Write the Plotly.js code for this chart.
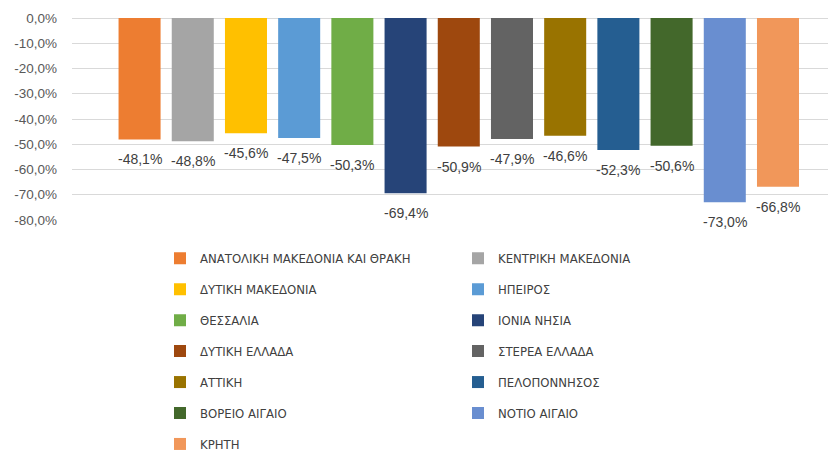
<!DOCTYPE html>
<html>
<head>
<meta charset="utf-8">
<script src="https://cdn.plot.ly/plotly-3.0.1.min.js"></script>
<style>html,body{margin:0;padding:0;background:#fff}#chart{width:828px;height:452px}</style>
</head>
<body>
<div id="chart"></div>
<script>
var regions = [
  "ΑΝΑΤΟΛΙΚΗ ΜΑΚΕΔΟΝΙΑ ΚΑΙ ΘΡΑΚΗ",
  "ΚΕΝΤΡΙΚΗ ΜΑΚΕΔΟΝΙΑ",
  "ΔΥΤΙΚΗ ΜΑΚΕΔΟΝΙΑ",
  "ΗΠΕΙΡΟΣ",
  "ΘΕΣΣΑΛΙΑ",
  "ΙΟΝΙΑ ΝΗΣΙΑ",
  "ΔΥΤΙΚΗ ΕΛΛΑΔΑ",
  "ΣΤΕΡΕΑ ΕΛΛΑΔΑ",
  "ΑΤΤΙΚΗ",
  "ΠΕΛΟΠΟΝΝΗΣΟΣ",
  "ΒΟΡΕΙΟ ΑΙΓΑΙΟ",
  "ΝΟΤΙΟ ΑΙΓΑΙΟ",
  "ΚΡΗΤΗ"
];
var values = [-48.1, -48.8, -45.6, -47.5, -50.3, -69.4, -50.9, -47.9, -46.6, -52.3, -50.6, -73.0, -66.8];
var colors = ["#ED7D31", "#A5A5A5", "#FFC000", "#5B9BD5", "#70AD47", "#264478", "#9E480E",
              "#636363", "#997300", "#255E91", "#43682B", "#698ED0", "#F1975A"];
var yTicks = [0, -10, -20, -30, -40, -50, -60, -70, -80];

function fmt(v) { return v.toFixed(1).replace('.', ',') + '%'; }

var W = 828, H = 452;
var mL = 72, mR = 0, mT = 18, mB = 232;
var plotW = W - mL - mR, plotH = H - mT - mB;

var traces = [];
var annotations = [];
var layout = {
  width: W, height: H,
  margin: {l: mL, r: mR, t: mT, b: mB, pad: 0, autoexpand: false},
  paper_bgcolor: '#fff', plot_bgcolor: '#fff',
  separators: ',.',
  barmode: 'overlay',
  bargap: 0.21,
  font: {family: 'Liberation Sans, Arial, sans-serif', size: 14, color: '#404040'},
  xaxis: {type: 'category', range: [-1.27, 12.94], showticklabels: false, showgrid: false,
          zeroline: false, showline: false, ticks: '', fixedrange: true},
  yaxis: {range: [-80, 0], tickvals: yTicks, ticktext: yTicks.map(fmt),
          showgrid: true, gridcolor: '#D9D9D9', gridwidth: 1,
          zeroline: true, zerolinecolor: '#D9D9D9', zerolinewidth: 1,
          showline: false, ticks: '', ticklabelstandoff: 14,
          tickfont: {family: 'Liberation Sans, Arial, sans-serif', size: 13.5, color: '#595959'}},
  showlegend: true,
  annotations: annotations
};

var rowY0 = 258.3, rowStep = 30.95;
var colX = [160, 458];

regions.forEach(function (name, i) {
  var legKey = i === 0 ? 'legend' : 'legend' + (i + 1);
  traces.push({
    type: 'bar', name: name, x: [name], y: [values[i]],
    marker: {color: colors[i], line: {width: 0}},
    legend: legKey,
    hoverinfo: 'name+y'
  });
  annotations.push({
    x: name, y: values[i], xref: 'x', yref: 'y', text: fmt(values[i]),
    showarrow: false, yshift: -20, yanchor: 'middle', xanchor: 'center',
    font: {family: 'Liberation Sans, Arial, sans-serif', size: 14, color: '#404040'}
  });
  var row = Math.floor(i / 2), col = i % 2;
  var py = rowY0 + row * rowStep;
  layout[legKey] = {
    x: (colX[col] - mL) / plotW,
    y: (mT + plotH - py) / plotH,
    xanchor: 'left', yanchor: 'middle',
    orientation: 'v', bgcolor: 'rgba(0,0,0,0)', borderwidth: 0,
    font: {family: 'DejaVu Sans Condensed, Liberation Sans, sans-serif', size: 13, color: '#404040'}
  };
});

Plotly.newPlot('chart', traces, layout, {displayModeBar: false, staticPlot: true});
</script>
</body>
</html>
